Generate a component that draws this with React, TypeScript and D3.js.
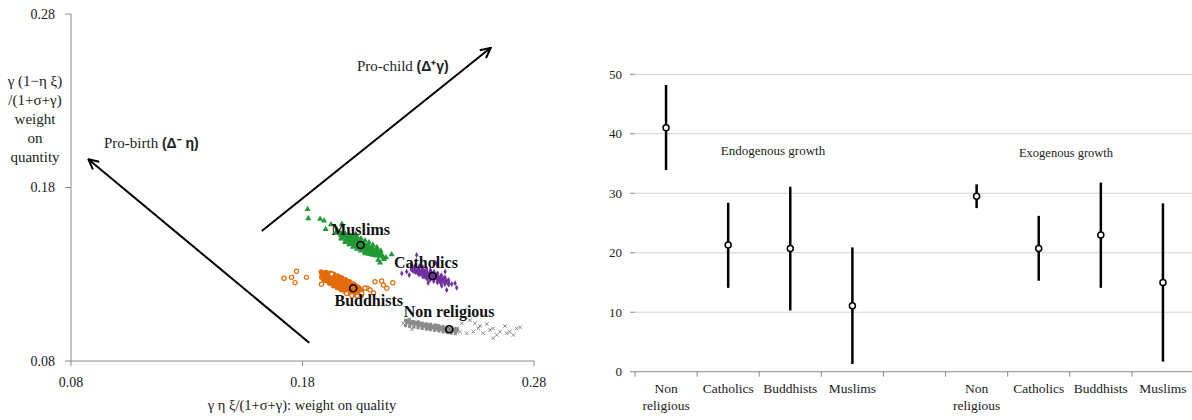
import React from "react";
import * as d3 from "d3";

// ---------- Left panel data (weight on quality, weight on quantity) ----------
const muslims: [number, number][] = [
  [0.1970, 0.1525], [0.1980, 0.1515], [0.1985, 0.1525], [0.1990, 0.1505], [0.1995, 0.1518],
  [0.2000, 0.1510], [0.2003, 0.1495], [0.2008, 0.1502], [0.2010, 0.1515], [0.2015, 0.1490],
  [0.2018, 0.1505], [0.2020, 0.1480], [0.2025, 0.1495], [0.2028, 0.1478], [0.2030, 0.1505],
  [0.2035, 0.1470], [0.2038, 0.1488], [0.2040, 0.1462], [0.2045, 0.1480], [0.2048, 0.1495],
  [0.2050, 0.1470], [0.2053, 0.1455], [0.2056, 0.1480], [0.2060, 0.1465], [0.2063, 0.1448],
  [0.2066, 0.1472], [0.2070, 0.1458], [0.2074, 0.1442], [0.2078, 0.1462], [0.2080, 0.1450],
  [0.2085, 0.1438], [0.2088, 0.1455], [0.2092, 0.1445], [0.2096, 0.1432], [0.2100, 0.1448],
  [0.2105, 0.1437], [0.2110, 0.1428], [0.2115, 0.1440], [0.2120, 0.1425], [0.2128, 0.1430],
  [0.2135, 0.1420], [0.2030, 0.1530], [0.2072, 0.1420], [0.2098, 0.1415], [0.1960, 0.1540],
  [0.2115, 0.1410], [0.2140, 0.1405],
  [0.1967, 0.1504], [0.1969, 0.1512], [0.1966, 0.1526], [0.1968, 0.1534],
  [0.1984, 0.1485], [0.1987, 0.1497], [0.1982, 0.1521], [0.1985, 0.1533],
  [0.2001, 0.1471], [0.2004, 0.1486], [0.1999, 0.1514], [0.2002, 0.1529],
  [0.2018, 0.1457], [0.2021, 0.1474], [0.2016, 0.1506], [0.2019, 0.1523],
  [0.2035, 0.1446], [0.2038, 0.1463], [0.2033, 0.1497], [0.2036, 0.1514],
  [0.2052, 0.1435], [0.2055, 0.1453], [0.2050, 0.1487], [0.2053, 0.1505],
  [0.2069, 0.1426], [0.2072, 0.1443], [0.2067, 0.1477], [0.2070, 0.1494],
  [0.2086, 0.1417], [0.2089, 0.1434], [0.2084, 0.1466], [0.2087, 0.1483],
  [0.2103, 0.1411], [0.2106, 0.1426], [0.2101, 0.1454], [0.2104, 0.1469],
  [0.2120, 0.1407], [0.2123, 0.1419], [0.2118, 0.1443], [0.2121, 0.1455],
  [0.2137, 0.1406], [0.2139, 0.1414], [0.2136, 0.1428], [0.2138, 0.1436],
  [0.1822, 0.1674], [0.1825, 0.1622], [0.1876, 0.1618], [0.1893, 0.1608], [0.1923, 0.1587],
  [0.1900, 0.1559], [0.1945, 0.1539], [0.1970, 0.1589], [0.2127, 0.1382], [0.2152, 0.1386],
  [0.2185, 0.1414], [0.2135, 0.1367], [0.2161, 0.1396], [0.1950, 0.1555], [0.2150, 0.1398],
];

const buddhists: [number, number][] = [
  [0.1885, 0.1285], [0.1892, 0.1270], [0.1898, 0.1290], [0.1905, 0.1278], [0.1910, 0.1265],
  [0.1915, 0.1295], [0.1918, 0.1280], [0.1922, 0.1268], [0.1928, 0.1255], [0.1930, 0.1285],
  [0.1935, 0.1272], [0.1940, 0.1260], [0.1942, 0.1248], [0.1948, 0.1275], [0.1952, 0.1262],
  [0.1955, 0.1250], [0.1960, 0.1240], [0.1963, 0.1268], [0.1968, 0.1255], [0.1972, 0.1243],
  [0.1975, 0.1232], [0.1980, 0.1260], [0.1984, 0.1248], [0.1988, 0.1236], [0.1992, 0.1225],
  [0.1995, 0.1252], [0.2000, 0.1240], [0.2004, 0.1228], [0.2008, 0.1218], [0.2012, 0.1245],
  [0.2015, 0.1232], [0.2020, 0.1222], [0.2024, 0.1210], [0.2028, 0.1235], [0.2032, 0.1224],
  [0.2036, 0.1212], [0.2040, 0.1200], [0.2045, 0.1220], [0.2050, 0.1208], [0.1900, 0.1300],
  [0.1925, 0.1305], [0.1958, 0.1280], [0.2002, 0.1205], [0.2018, 0.1198],
  [0.1883, 0.1283], [0.1885, 0.1305], [0.1881, 0.1313],
  [0.1900, 0.1263], [0.1903, 0.1276], [0.1898, 0.1299], [0.1901, 0.1311],
  [0.1917, 0.1248], [0.1920, 0.1262], [0.1915, 0.1291], [0.1918, 0.1306],
  [0.1934, 0.1233], [0.1937, 0.1250], [0.1932, 0.1282], [0.1935, 0.1299],
  [0.1951, 0.1222], [0.1954, 0.1239], [0.1949, 0.1273], [0.1952, 0.1290],
  [0.1968, 0.1210], [0.1971, 0.1228], [0.1966, 0.1262], [0.1969, 0.1280],
  [0.1985, 0.1200], [0.1988, 0.1217], [0.1983, 0.1251], [0.1986, 0.1268],
  [0.2002, 0.1191], [0.2005, 0.1208], [0.2000, 0.1240], [0.2003, 0.1257],
  [0.2019, 0.1184], [0.2022, 0.1199], [0.2017, 0.1227], [0.2020, 0.1242],
  [0.2036, 0.1179], [0.2039, 0.1191], [0.2034, 0.1215], [0.2037, 0.1227],
  [0.2053, 0.1177], [0.2055, 0.1185], [0.2052, 0.1199], [0.2054, 0.1207],
  [0.1720, 0.1277], [0.1753, 0.1282], [0.1774, 0.1317], [0.1768, 0.1252], [0.1817, 0.1282],
  [0.1882, 0.1243], [0.1926, 0.1301], [0.2080, 0.1219], [0.2092, 0.1209], [0.2113, 0.1257],
  [0.2142, 0.1261], [0.2190, 0.1251], [0.2149, 0.1238], [0.2107, 0.1192], [0.2164, 0.1219],
  [0.2056, 0.1190], [0.2070, 0.1221], [0.1991, 0.1189], [0.2013, 0.1178], [0.2037, 0.1175],
];
const buddhistsCore = 87; // first points form the dense blob

const catholics: [number, number][] = [
  [0.2270, 0.1330], [0.2278, 0.1318], [0.2285, 0.1335], [0.2290, 0.1322], [0.2296, 0.1310],
  [0.2300, 0.1328], [0.2305, 0.1315], [0.2310, 0.1302], [0.2314, 0.1325], [0.2318, 0.1310],
  [0.2322, 0.1298], [0.2326, 0.1318], [0.2330, 0.1305], [0.2334, 0.1292], [0.2338, 0.1312],
  [0.2342, 0.1298], [0.2346, 0.1285], [0.2350, 0.1305], [0.2354, 0.1292], [0.2358, 0.1280],
  [0.2362, 0.1300], [0.2366, 0.1287], [0.2370, 0.1275], [0.2374, 0.1295], [0.2378, 0.1282],
  [0.2382, 0.1270], [0.2386, 0.1290], [0.2390, 0.1277], [0.2394, 0.1265], [0.2398, 0.1285],
  [0.2402, 0.1272], [0.2408, 0.1262], [0.2412, 0.1280], [0.2416, 0.1268], [0.2420, 0.1258],
  [0.2340, 0.1275], [0.2325, 0.1285], [0.2355, 0.1315], [0.2380, 0.1300], [0.2395, 0.1255],
  [0.2271, 0.1328], [0.2273, 0.1346], [0.2270, 0.1352],
  [0.2287, 0.1312], [0.2289, 0.1322], [0.2285, 0.1341], [0.2288, 0.1350],
  [0.2303, 0.1298], [0.2306, 0.1310], [0.2301, 0.1334], [0.2304, 0.1346],
  [0.2319, 0.1288], [0.2322, 0.1301], [0.2317, 0.1327], [0.2320, 0.1340],
  [0.2335, 0.1278], [0.2338, 0.1292], [0.2333, 0.1319], [0.2336, 0.1332],
  [0.2351, 0.1268], [0.2354, 0.1282], [0.2349, 0.1310], [0.2352, 0.1324],
  [0.2367, 0.1260], [0.2370, 0.1274], [0.2365, 0.1301], [0.2368, 0.1314],
  [0.2383, 0.1252], [0.2386, 0.1265], [0.2381, 0.1291], [0.2384, 0.1304],
  [0.2399, 0.1246], [0.2402, 0.1258], [0.2397, 0.1282], [0.2400, 0.1294],
  [0.2415, 0.1242], [0.2417, 0.1252], [0.2413, 0.1271], [0.2416, 0.1280],
  [0.2431, 0.1240], [0.2432, 0.1246], [0.2430, 0.1258], [0.2431, 0.1264],
  [0.2274, 0.1349], [0.2293, 0.1411], [0.2372, 0.1369], [0.2416, 0.1315], [0.2430, 0.1267],
  [0.2466, 0.1222], [0.2445, 0.1244], [0.2401, 0.1234], [0.2250, 0.1315], [0.2261, 0.1296],
  [0.2343, 0.1251], [0.2423, 0.1209], [0.2229, 0.1305], [0.2459, 0.1248], [0.2380, 0.1359],
];

const nonReligious: [number, number][] = [
  [0.2245, 0.1035], [0.2250, 0.1022], [0.2256, 0.1030], [0.2262, 0.1018], [0.2268, 0.1028],
  [0.2274, 0.1015], [0.2280, 0.1024], [0.2286, 0.1012], [0.2292, 0.1020], [0.2298, 0.1008],
  [0.2304, 0.1018], [0.2310, 0.1005], [0.2316, 0.1014], [0.2322, 0.1002], [0.2328, 0.1010],
  [0.2334, 0.0998], [0.2340, 0.1007], [0.2346, 0.0995], [0.2352, 0.1004], [0.2358, 0.0992],
  [0.2364, 0.1000], [0.2370, 0.0990], [0.2376, 0.0998], [0.2382, 0.0987], [0.2388, 0.0995],
  [0.2394, 0.0984], [0.2400, 0.0993], [0.2406, 0.0982], [0.2412, 0.0990], [0.2418, 0.0980],
  [0.2424, 0.0988], [0.2430, 0.0978], [0.2436, 0.0986], [0.2442, 0.0976], [0.2448, 0.0984],
  [0.2454, 0.0974], [0.2460, 0.0980], [0.2466, 0.0972], [0.2260, 0.1040], [0.2300, 0.1025],
  [0.2340, 0.0988], [0.2380, 0.1005], [0.2420, 0.0972], [0.2470, 0.0985],
  [0.2245, 0.1004], [0.2263, 0.1000], [0.2281, 0.0996], [0.2299, 0.0992], [0.2317, 0.0988],
  [0.2335, 0.0984], [0.2353, 0.0981], [0.2371, 0.0977], [0.2389, 0.0973], [0.2407, 0.0969],
  [0.2425, 0.0965], [0.2443, 0.0961], [0.2461, 0.0958],
  [0.2263, 0.1030], [0.2281, 0.1026], [0.2299, 0.1022], [0.2317, 0.1018], [0.2335, 0.1014],
  [0.2353, 0.1011], [0.2371, 0.1007], [0.2389, 0.1003], [0.2407, 0.0999], [0.2425, 0.0995],
  [0.2443, 0.0991], [0.2461, 0.0988],
  [0.2488, 0.1017], [0.2524, 0.1036], [0.2545, 0.1017], [0.2567, 0.1002], [0.2596, 0.1013],
  [0.2610, 0.0979], [0.2639, 0.0950], [0.2675, 0.1002], [0.2696, 0.0969], [0.2725, 0.0988],
  [0.2480, 0.0969], [0.2509, 0.0960], [0.2538, 0.0969], [0.2559, 0.0988], [0.2581, 0.0960],
  [0.2624, 0.0988], [0.2653, 0.0969], [0.2682, 0.0960], [0.2711, 0.0950], [0.2740, 0.0994],
  [0.2624, 0.0931], [0.2272, 0.0983], [0.2235, 0.1017],
];
const nonReligiousCore = 69; // first points form the dense band

// Group means (black circles) and their labels
const groupNames = ["Muslims", "Catholics", "Buddhists", "Non religious"];
const groupMeans: [number, number][] = [
  [0.2051, 0.1469], [0.2362, 0.1290], [0.2019, 0.1219], [0.2434, 0.0983],
];
const groupLabelPos: [number, number][] = [
  [0.2051, 0.1526], [0.2333, 0.1336], [0.2086, 0.1117], [0.2433, 0.1054],
];

// Arrows: [x0, y0, x1, y1]
const proChildArrow = [0.1624, 0.1549, 0.2613, 0.2605];
const proBirthArrow = [0.1829, 0.0905, 0.0875, 0.1963];

const leftTicks = [0.08, 0.18, 0.28];

// ---------- Right panel data ----------
const categories = ["Non religious", "Catholics", "Buddhists", "Muslims"];
const endoMean = [41.0, 21.3, 20.7, 11.1];
const endoLow = [33.9, 14.1, 10.3, 1.3];
const endoHigh = [48.2, 28.4, 31.1, 20.9];
const exoMean = [29.5, 20.7, 23.0, 15.0];
const exoLow = [27.5, 15.3, 14.1, 1.7];
const exoHigh = [31.5, 26.2, 31.8, 28.3];
const rightTicks = [0, 10, 20, 30, 40, 50];

const SERIF = "'Liberation Serif', 'Times New Roman', serif";
const SANS = "'Liberation Sans', Arial, sans-serif";

export default function App() {
  const xL = d3.scaleLinear().domain([0.08, 0.28]).range([71, 534]);
  const yL = d3.scaleLinear().domain([0.08, 0.28]).range([361, 14]);

  const slots = [
    ...categories.map((c) => "endo|" + c),
    "gap",
    ...categories.map((c) => "exo|" + c),
  ];
  const xR = d3.scaleBand<string>().domain(slots).range([635, 1194]).padding(0);
  const yR = d3.scaleLinear().domain([0, 50]).range([371.7, 74.3]);
  const bw = xR.bandwidth();

  const tri = d3.symbol().type(d3.symbolTriangle).size(16)()!;
  const dia = d3.symbol().type(d3.symbolDiamond).size(10)()!;
  const xs = d3.symbol().type((d3 as any).symbolX || d3.symbolCross).size(10)()!;

  const green = "#1f9a35";
  const orange = "#e36c0a";
  const purple = "#7030a0";
  const gray = "#8c8c8c";
  const axisGray = "#8a8a8a";

  const series = [
    { key: "endo", mean: endoMean, low: endoLow, high: endoHigh },
    { key: "exo", mean: exoMean, low: exoLow, high: exoHigh },
  ];

  return (
    <svg
      width={1192}
      height={420}
      style={{ position: "absolute", left: 0, top: 0, background: "#fff" }}
    >
      <defs>
        <marker
          id="openArrow"
          viewBox="0 0 12 12"
          refX="11"
          refY="6"
          markerWidth="12"
          markerHeight="12"
          markerUnits="userSpaceOnUse"
          orient="auto"
        >
          <path d="M1,1 L11,6 L1,11" fill="none" stroke="#000" strokeWidth="2" />
        </marker>
      </defs>

      {/* ---------------- LEFT PANEL ---------------- */}
      <g>
        <line x1={xL(0.08)} x2={xL(0.08)} y1={yL(0.28)} y2={yL(0.08)} stroke={axisGray} strokeWidth={1} />
        <line x1={xL(0.08)} x2={xL(0.28)} y1={yL(0.08)} y2={yL(0.08)} stroke={axisGray} strokeWidth={1} />
        {leftTicks.map((t) => (
          <g key={"ly" + t}>
            <line x1={xL(0.08) - 6} x2={xL(0.08)} y1={yL(t)} y2={yL(t)} stroke={axisGray} />
            <text x={55} y={yL(t)} dy="0.35em" textAnchor="end" fontFamily={SERIF} fontSize={14} fill="#222">
              {t.toFixed(2)}
            </text>
          </g>
        ))}
        {leftTicks.map((t) => (
          <g key={"lx" + t}>
            <line x1={xL(t)} x2={xL(t)} y1={yL(0.08)} y2={yL(0.08) + 5} stroke={axisGray} />
            <text x={xL(t)} y={387} textAnchor="middle" fontFamily={SERIF} fontSize={14} fill="#222">
              {t.toFixed(2)}
            </text>
          </g>
        ))}
        <text x={302} y={410} textAnchor="middle" fontFamily={SERIF} fontSize={14.5} fill="#222">
          γ η ξ/(1+σ+γ): weight on quality
        </text>
        {["γ (1−η ξ)", "/(1+σ+γ)", "weight", "on", "quantity"].map((s, i) => (
          <text key={s} x={35} y={86 + i * 19} textAnchor="middle" fontFamily={SERIF} fontSize={15} fill="#222">
            {s}
          </text>
        ))}

        {/* arrows */}
        <line
          x1={xL(proChildArrow[0])} y1={yL(proChildArrow[1])}
          x2={xL(proChildArrow[2])} y2={yL(proChildArrow[3])}
          stroke="#000" strokeWidth={2} markerEnd="url(#openArrow)"
        />
        <line
          x1={xL(proBirthArrow[0])} y1={yL(proBirthArrow[1])}
          x2={xL(proBirthArrow[2])} y2={yL(proBirthArrow[3])}
          stroke="#000" strokeWidth={2} markerEnd="url(#openArrow)"
        />
        <text x={104} y={148} fontFamily={SERIF} fontSize={15} fill="#222">
          Pro-birth{" "}
          <tspan fontFamily={SANS} fontWeight="bold" fontSize={14}>(Δ⁻ η)</tspan>
        </text>
        <text x={357} y={71} fontFamily={SERIF} fontSize={15} fill="#222">
          Pro-child{" "}
          <tspan fontFamily={SANS} fontWeight="bold" fontSize={14}>(Δ⁺γ)</tspan>
        </text>

        {/* scatter clouds */}
        {nonReligious.map((d, i) =>
          i < nonReligiousCore ? (
            <rect key={"nr" + i} x={xL(d[0]) - 1.6} y={yL(d[1]) - 1.6} width={3.2} height={3.2} fill={gray} />
          ) : (
            <path key={"nr" + i} d={xs} transform={`translate(${xL(d[0])},${yL(d[1])})`} fill="none" stroke={gray} strokeWidth={1} />
          )
        )}
        {buddhists.map((d, i) => (
          <circle
            key={"bu" + i}
            cx={xL(d[0])}
            cy={yL(d[1])}
            r={2.1}
            fill={i < buddhistsCore ? orange : "#fff"}
            stroke={orange}
            strokeWidth={1.2}
          />
        ))}
        {catholics.map((d, i) => (
          <path key={"ca" + i} d={dia} transform={`translate(${xL(d[0])},${yL(d[1])})`} fill={purple} />
        ))}
        {muslims.map((d, i) => (
          <path key={"mu" + i} d={tri} transform={`translate(${xL(d[0])},${yL(d[1])})`} fill={green} />
        ))}

        {groupMeans.map((d, i) => (
          <circle key={"gm" + i} cx={xL(d[0])} cy={yL(d[1])} r={3.5} fill="none" stroke="#000" strokeWidth={1.6} />
        ))}
        {groupNames.map((n, i) => (
          <text
            key={"gl" + n}
            x={xL(groupLabelPos[i][0])}
            y={yL(groupLabelPos[i][1])}
            textAnchor="middle"
            fontFamily={SERIF}
            fontWeight="bold"
            fontSize={16}
            fill="#111"
          >
            {n}
          </text>
        ))}
      </g>

      {/* ---------------- RIGHT PANEL ---------------- */}
      <g>
        {rightTicks.map((t) => (
          <g key={"ry" + t}>
            {t > 0 && (
              <line x1={635} x2={1192} y1={yR(t)} y2={yR(t)} stroke="#d4d4d4" strokeWidth={1} />
            )}
            <line x1={630} x2={635} y1={yR(t)} y2={yR(t)} stroke={axisGray} />
            <text x={622} y={yR(t)} dy="0.35em" textAnchor="end" fontFamily={SERIF} fontSize={13} fill="#222">
              {t}
            </text>
          </g>
        ))}
        <line x1={635} x2={1192} y1={yR(0)} y2={yR(0)} stroke={axisGray} strokeWidth={1} />
        {slots.map((s) => (
          <line key={"rt" + s} x1={xR(s)!} x2={xR(s)!} y1={yR(0)} y2={yR(0) + 5} stroke={axisGray} />
        ))}

        {series.map((se) =>
          categories.map((c, i) => {
            const cx = xR(se.key + "|" + c)! + bw / 2;
            const lines = c === "Non religious" ? ["Non", "religious"] : [c];
            return (
              <g key={se.key + c}>
                <line x1={cx} x2={cx} y1={yR(se.low[i])} y2={yR(se.high[i])} stroke="#000" strokeWidth={2.5} />
                <circle cx={cx} cy={yR(se.mean[i])} r={3} fill="#fff" stroke="#000" strokeWidth={1.5} />
                {lines.map((l, j) => (
                  <text key={l} x={cx} y={393 + j * 17} textAnchor="middle" fontFamily={SERIF} fontSize={13.5} fill="#222">
                    {l}
                  </text>
                ))}
              </g>
            );
          })
        )}

        <text x={773} y={155} textAnchor="middle" fontFamily={SERIF} fontSize={13} fill="#222">
          Endogenous growth
        </text>
        <text x={1066} y={157} textAnchor="middle" fontFamily={SERIF} fontSize={12.5} fill="#222">
          Exogenous growth
        </text>
      </g>
    </svg>
  );
}
